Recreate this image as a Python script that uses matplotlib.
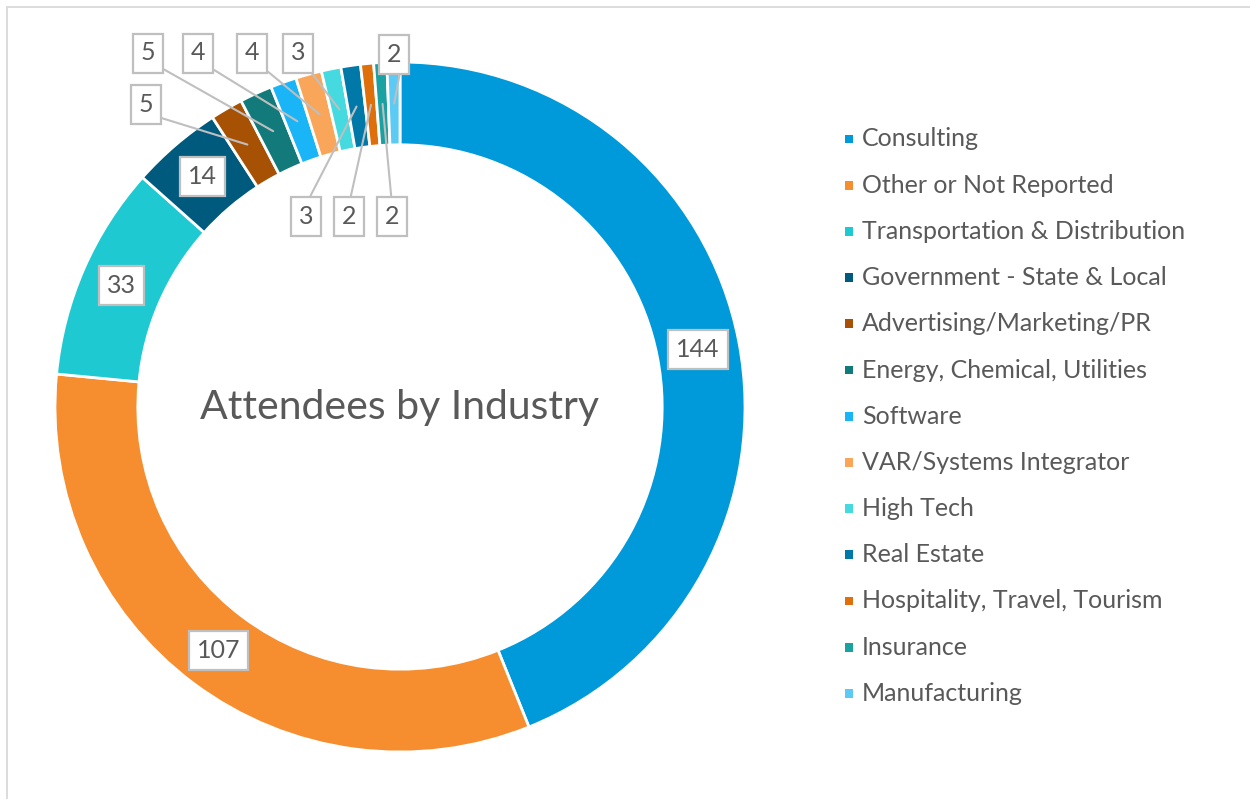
import numpy as np
import matplotlib.pyplot as plt
from matplotlib.patches import Rectangle

# Data
industries = ['Consulting', 'Other or Not Reported', 'Transportation & Distribution',
              'Government - State & Local', 'Advertising/Marketing/PR',
              'Energy, Chemical, Utilities', 'Software', 'VAR/Systems Integrator',
              'High Tech', 'Real Estate', 'Hospitality, Travel, Tourism',
              'Insurance', 'Manufacturing']
attendees = [144, 107, 33, 14, 5, 5, 4, 4, 3, 3, 2, 2, 2]
colors = ['#0099DA', '#F68D2E', '#1FC9D2', '#005A7E', '#A65104', '#127A7A',
          '#1AB5F6', '#F9A65A', '#45D9E0', '#0078A8', '#DE6F0B', '#1AA1A1', '#5BCBF5']

plt.rcParams['font.family'] = ['Lato', 'DejaVu Sans']
TXT = '#595959'

W, H = 1250, 799
CX, CY, R = 400, 407, 345   # donut centre and radius in pixels


def to_data(px, py):
    return (px - CX) / R, (CY - py) / R


fig = plt.figure(figsize=(W / 100, H / 100), dpi=100)
ax = fig.add_axes([0, 0, 1, 1])

wedges, _ = ax.pie(attendees, colors=colors, startangle=90, counterclock=False,
                   radius=1.0,
                   wedgeprops=dict(width=0.24, edgecolor='white', linewidth=2))
ax.set_xlim(-CX / R, (W - CX) / R)
ax.set_ylim(-(H - CY) / R, CY / R)
ax.set_aspect('auto')
ax.axis('off')

# outer border of the chart area
fig.add_artist(Rectangle((7 / W, -0.1), 2, (H - 7) / H + 0.1, transform=fig.transFigure,
                         fill=False, ec='#d9d9d9', lw=1.3))

ax.text(0, 0, 'Attendees by Industry', ha='center', va='center', fontsize=29.5, color=TXT)

# data labels: inside the ring for big slices, boxes with leader lines for small ones
box_pos = {4: (146, 104), 5: (148, 53), 6: (198, 53), 7: (252, 53), 8: (298, 53),
           9: (306, 216), 10: (349, 216), 11: (392, 216), 12: (394, 54)}
bbox = dict(boxstyle='square,pad=0.32', fc='white', ec='#bfbfbf', lw=1.6)
mid_r = 0.88
for i, (w, v) in enumerate(zip(wedges, attendees)):
    ang = np.deg2rad((w.theta1 + w.theta2) / 2)
    px, py = mid_r * np.cos(ang), mid_r * np.sin(ang)
    if i not in box_pos:
        ax.text(px, py, str(v), ha='center', va='center', fontsize=18, color=TXT, bbox=bbox)
    else:
        bx, by = to_data(*box_pos[i])
        rel = (1, 0) if by > py else (0.5, 1)
        ax.annotate(str(v), xy=(px, py), xytext=(bx, by), ha='center', va='center',
                    fontsize=18, color=TXT, bbox=bbox,
                    arrowprops=dict(arrowstyle='-', color='#bfbfbf', lw=1.5,
                                    relpos=rel, shrinkA=0, shrinkB=0))

# legend
for i, (name, c) in enumerate(zip(industries, colors)):
    ly = 139 + i * 46.2
    mx, my = to_data(849, ly)
    tx, _ = to_data(862, ly)
    ax.scatter([mx], [my], marker='s', s=40, color=c, edgecolors='none')
    ax.text(tx, my, name, ha='left', va='center', fontsize=18, color=TXT)

fig.savefig('out.png', dpi=100, facecolor='white')
